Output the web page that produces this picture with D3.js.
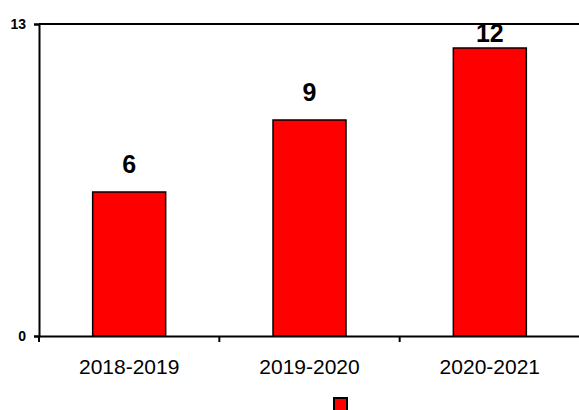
<!DOCTYPE html>
<html><head><meta charset="utf-8">
<script src="https://cdn.jsdelivr.net/npm/d3@7"></script>
<style>body{margin:0;background:#fff}svg{display:block}</style>
</head><body>
<script>
const categories = ["2018-2019","2019-2020","2020-2021"];
const values = [6, 9, 12];
const yTicks = [0, 13];

const W = 579, H = 410;
const m = {left:39, right:0, top:24, bottom:74};
const svg = d3.select("body").append("svg").attr("width", W).attr("height", H);
const x = d3.scaleBand().domain(categories).range([m.left, 580]).paddingInner(0).paddingOuter(0);
const y = d3.scaleLinear().domain([0, 13]).range([H - m.bottom, m.top]);
const bw = 73;
const FF = "Liberation Sans, Arial, sans-serif";

// top border line
svg.append("line").attr("x1", m.left).attr("x2", W).attr("y1", y(13)).attr("y2", y(13))
  .attr("stroke","#000").attr("stroke-width",2);

svg.selectAll("rect.bar").data(values).join("rect").attr("class","bar")
  .attr("x",(d,i)=>x(categories[i]) + x.bandwidth()/2 - bw/2)
  .attr("width", bw)
  .attr("y", d=>y(d)).attr("height", d=>y(0)-y(d))
  .attr("fill","#ff0000").attr("stroke","#000").attr("stroke-width",1.5);

svg.selectAll("text.val").data(values).join("text").attr("class","val")
  .attr("x",(d,i)=>x(categories[i]) + x.bandwidth()/2)
  .attr("y", d=>Math.max(y(d) - 19, y(13) + 18))
  .attr("text-anchor","middle")
  .attr("font-family",FF)
  .attr("font-weight","bold").attr("font-size",25)
  .text(d=>d);

// y axis
const ya = svg.append("g").attr("transform",`translate(${m.left},0)`)
  .call(d3.axisLeft(y).tickValues(yTicks).tickSize(5).tickPadding(8));
ya.select(".domain").attr("stroke-width",2);
ya.selectAll(".tick line").attr("stroke-width",2);
ya.selectAll("text").attr("font-family",FF)
  .attr("font-weight","bold").attr("font-size",14).attr("fill","#000");

// x axis
const xa = svg.append("g").attr("transform",`translate(0,${y(0)})`)
  .call(d3.axisBottom(x).tickSize(0).tickPadding(23));
xa.select(".domain").attr("stroke-width",2);
xa.selectAll("text").attr("font-family",FF)
  .attr("font-size",21).attr("fill","#000");
// category separator ticks
const bounds = categories.map(c=>x(c));
svg.selectAll("line.sep").data(bounds).join("line").attr("class","sep")
  .attr("x1",d=>d).attr("x2",d=>d)
  .attr("y1",y(0)).attr("y2",y(0)+6).attr("stroke","#000").attr("stroke-width",2);

// legend
svg.append("rect").attr("x",334).attr("y",398).attr("width",13).attr("height",13)
  .attr("fill","#ff0000").attr("stroke","#000").attr("stroke-width",2);
</script>
</body></html>
